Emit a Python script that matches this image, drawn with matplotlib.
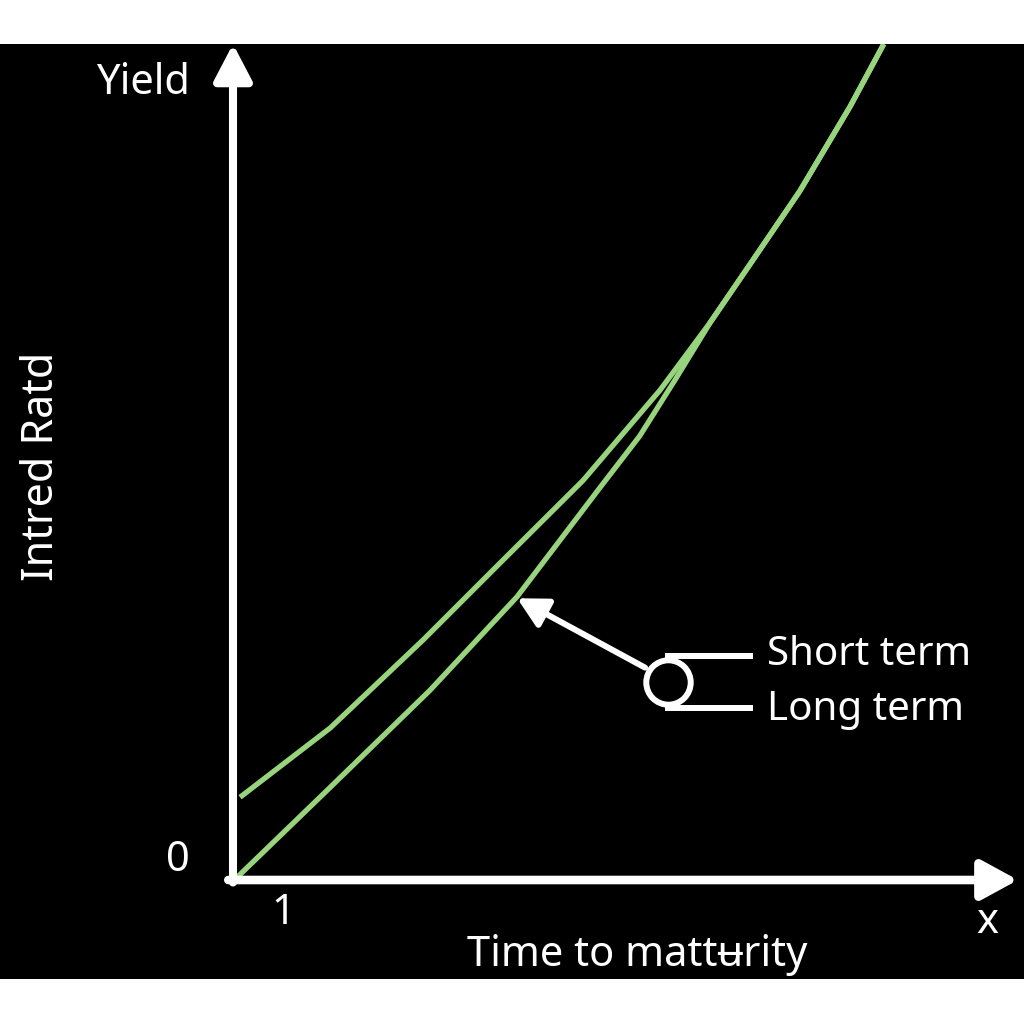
import matplotlib
matplotlib.use("Agg")
import matplotlib.pyplot as plt
from matplotlib.patches import Rectangle

plt.rcParams['font.family'] = ['Noto Sans', 'DejaVu Sans']

# Data (maturity vs yield, arbitrary units)

short_x = [0.09, 1.24, 2.42, 3.40, 4.46, 5.44, 6.08, 6.59, 7.22, 7.86, 8.29]
short_y = [0.99, 1.82, 2.87, 3.79, 4.78, 5.86, 6.67, 7.37, 8.24, 9.25, 10.0]

long_x = [0.05, 1.24, 2.51, 3.62, 4.68, 5.18, 5.63, 6.08, 6.59, 7.22, 7.86, 8.29]
long_y = [0.03, 1.11, 2.27, 3.39, 4.70, 5.31, 5.98, 6.67, 7.37, 8.24, 9.25, 10.0]

series_labels = ["Short term", "Long term"]
x_label = "Time to matt\u0289rity"
y_label = "Intred Ratd"
top_label = "Yield"
x_tick = "1"
y_tick = "0"
x_end = "x"

GREEN = "#98d47e"
W = 1024

# Figure

fig = plt.figure(figsize=(10.24, 10.24), dpi=100)
fig.patch.set_facecolor("white")
fig.patches.append(Rectangle((0, 45 / W), 1, 935 / W, transform=fig.transFigure,
                             facecolor="black", edgecolor="none", zorder=-5))

ax = fig.add_axes([233 / W, 144 / W, 785 / W, 836 / W])
ax.set_zorder(2)
ax.set_xlim(0, 10)
ax.set_ylim(0, 10)
ax.set_facecolor("none")
ax.axis("off")

# curves
ax.plot(short_x, short_y, color=GREEN, lw=3.8, solid_capstyle="butt",
        solid_joinstyle="round", zorder=3)
ax.plot(long_x, long_y, color=GREEN, lw=3.8, solid_capstyle="butt",
        solid_joinstyle="round", zorder=3)

# axis arrows
ax.annotate("", xy=(0, 1.0), xytext=(0, -0.003), xycoords="axes fraction",
            arrowprops=dict(arrowstyle="-|>,head_length=2.2,head_width=1.15",
                            mutation_scale=10, lw=5.8, color="white",
                            shrinkA=0, shrinkB=0), zorder=4)
ax.annotate("", xy=(1.0, 0.0), xytext=(-0.006, 0.0), xycoords="axes fraction",
            arrowprops=dict(arrowstyle="-|>,head_length=2.2,head_width=1.2",
                            mutation_scale=10, lw=6.2, color="white",
                            shrinkA=0, shrinkB=0), zorder=4)

# legend-like callout
ax.plot([5.54, 6.59], [2.68, 2.68], color="white", lw=4.3, zorder=4)
ax.plot([5.54, 6.59], [2.06, 2.06], color="white", lw=4.3, zorder=4)
ax.plot([5.54], [2.37], marker="o", markersize=32, markerfacecolor="black",
        markeredgecolor="white", markeredgewidth=4.3, zorder=5)
ax.annotate("", xy=(3.62, 3.37), xytext=(5.25, 2.54), xycoords="data",
            arrowprops=dict(arrowstyle="-|>,head_length=1.8,head_width=0.95",
                            mutation_scale=10, lw=4.3, color="white",
                            shrinkA=0, shrinkB=0), zorder=4)
ax.text(6.80, 2.69, series_labels[0], color="white", fontsize=29, va="center", ha="left")
ax.text(6.80, 2.03, series_labels[1], color="white", fontsize=29, va="center", ha="left")

# texts
fig.text(143 / W, 1 - 83 / W, top_label, color="white", fontsize=30, ha="center", va="center")
fig.text(178 / W, 1 - 860 / W, y_tick, color="white", fontsize=30, ha="center", va="center")
fig.text(283 / W, 1 - 913 / W, x_tick, color="white", fontsize=30, ha="center", va="center")
fig.text(987 / W, 1 - 922 / W, x_end, color="white", fontsize=30, ha="center", va="center")
fig.text(637 / W, 1 - 955 / W, x_label, color="white", fontsize=30, ha="center", va="center")
fig.text(42 / W, 1 - 466 / W, y_label, color="white", fontsize=31, ha="center", va="center",
         rotation=90)

fig.savefig("out.png", dpi=100)
